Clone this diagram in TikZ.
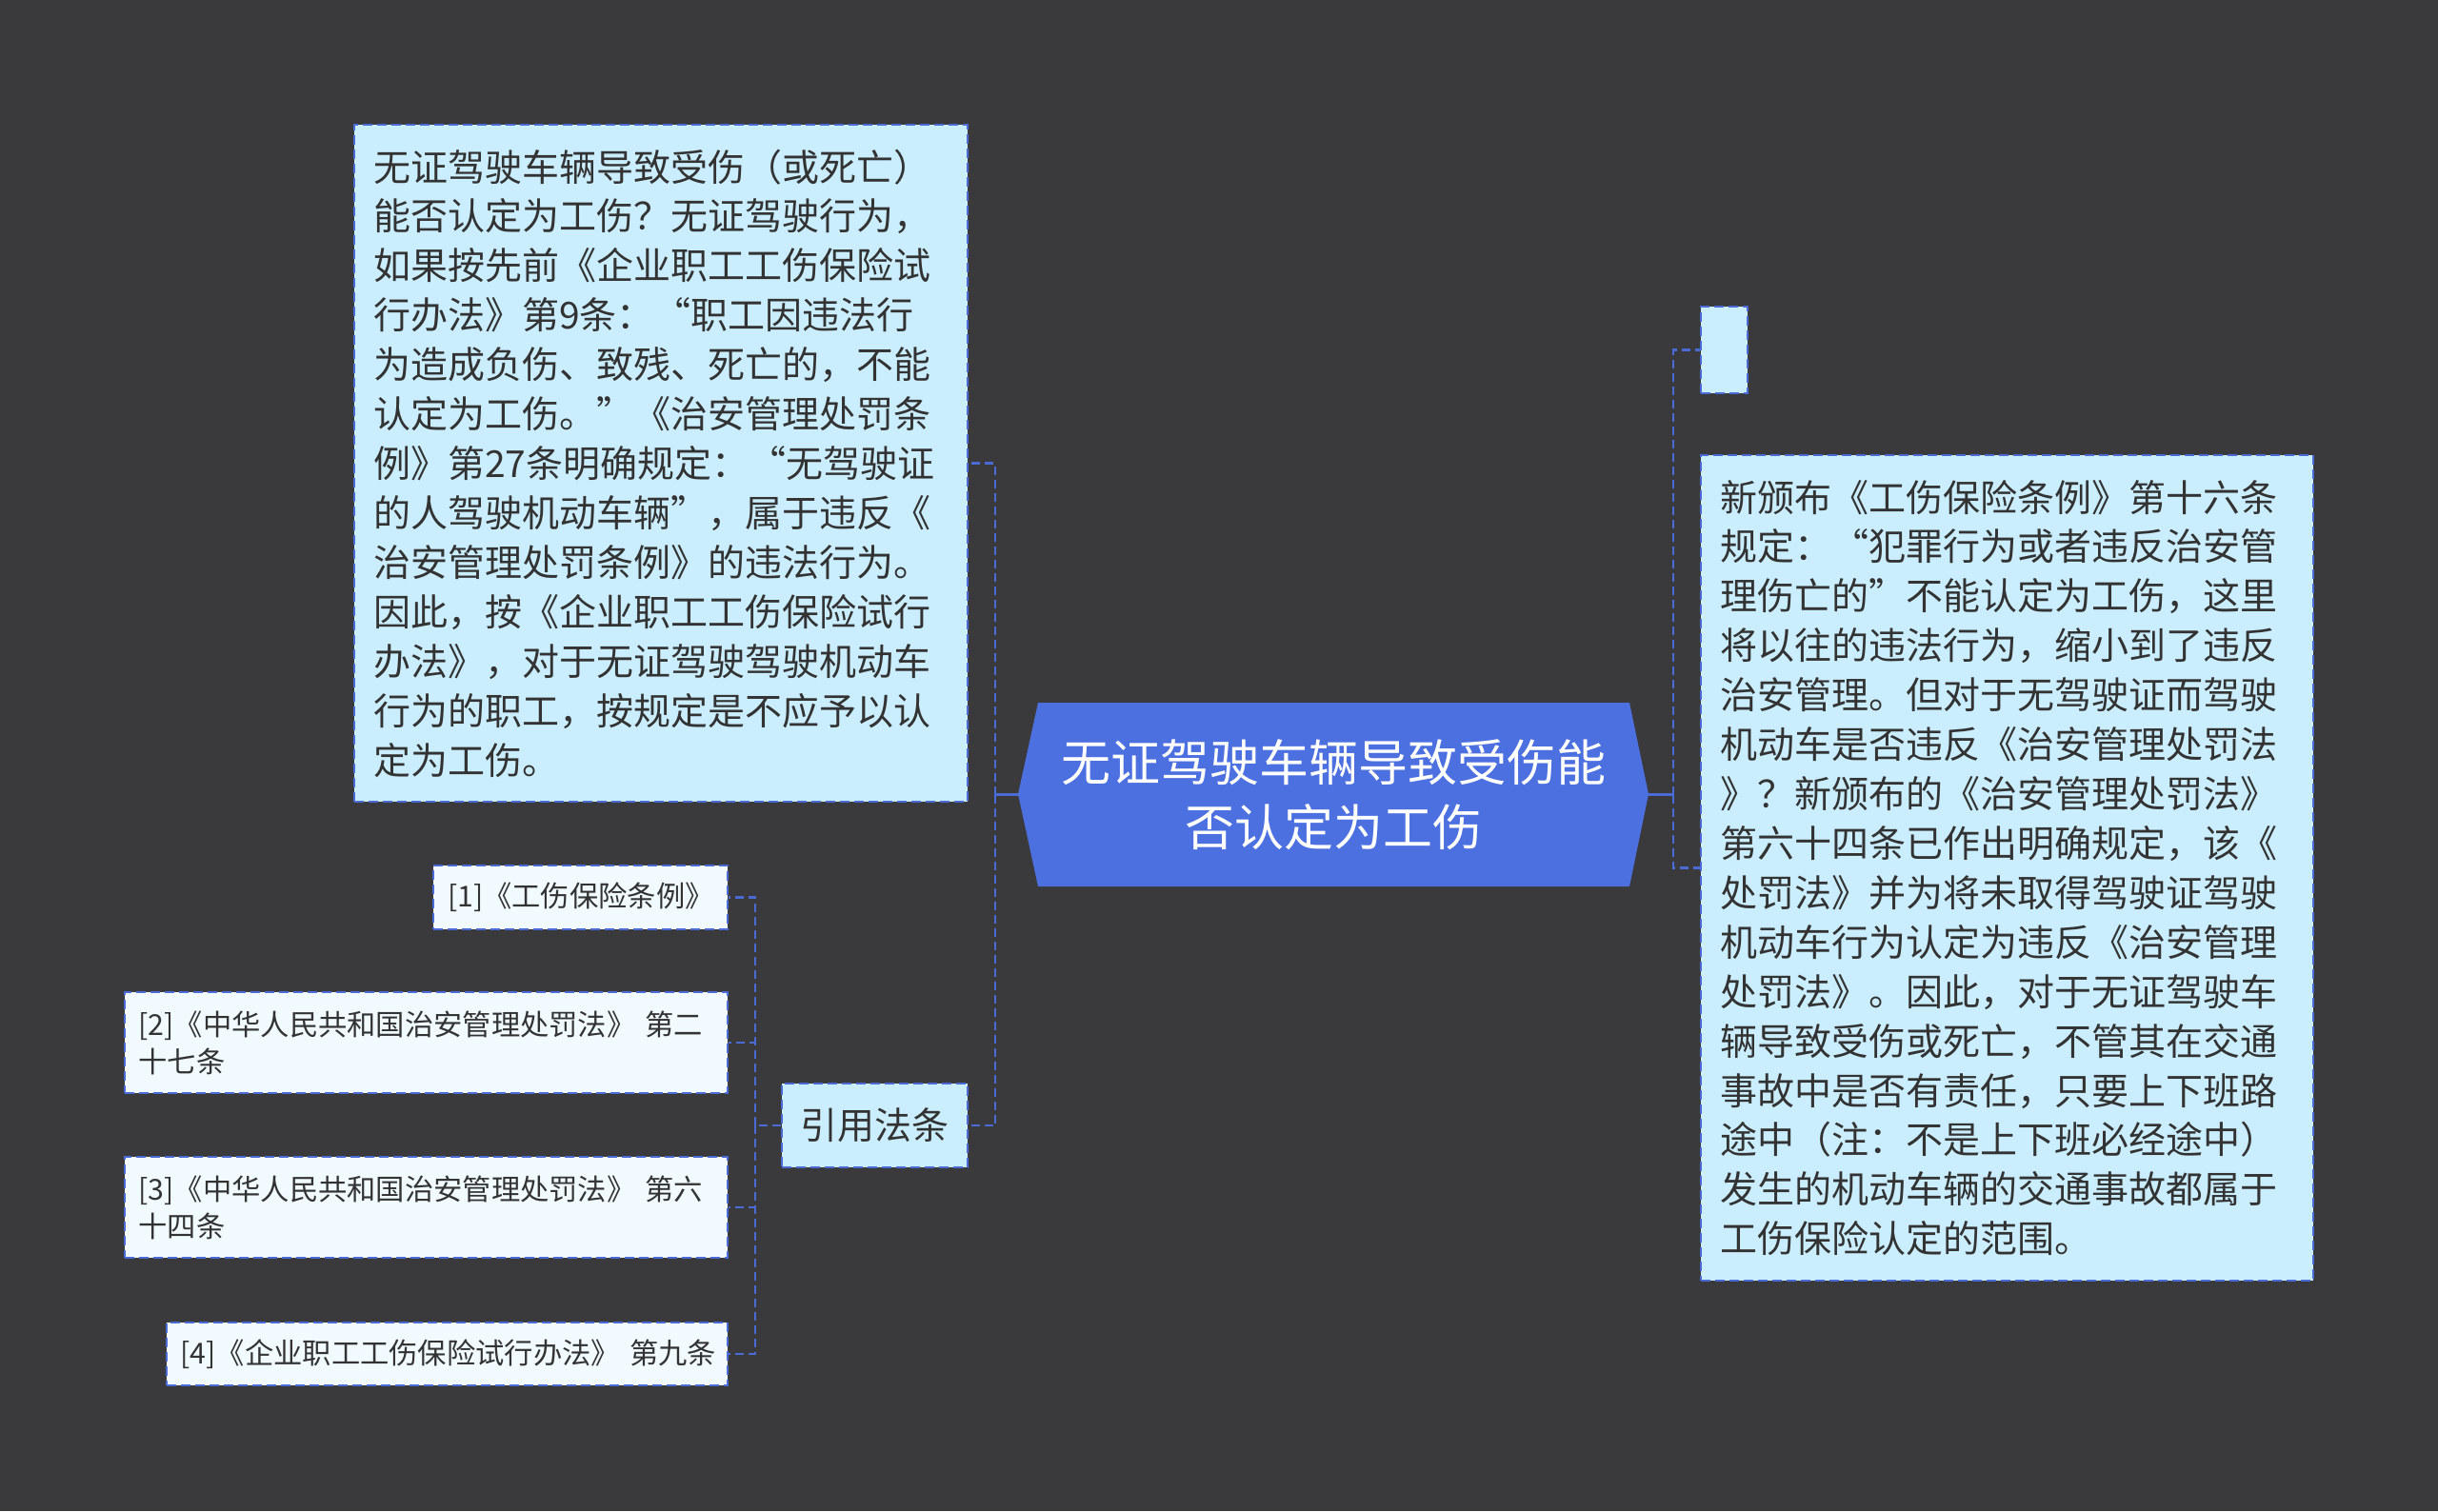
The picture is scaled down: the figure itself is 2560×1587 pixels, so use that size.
\documentclass[tikz,border=0pt]{standalone}
\usepackage{fontspec}
\setmainfont{Noto Sans CJK SC}
\definecolor{bgc}{HTML}{3A393C}
\definecolor{lineblue}{HTML}{4A6BD6}
\definecolor{boxfill}{HTML}{CAEEFE}
\definecolor{reffill}{HTML}{F0FAFF}
\definecolor{cfill}{HTML}{4C70E0}
\definecolor{txt}{HTML}{333333}
\newcommand\bodyfont{\fontsize{19.5pt}{25.96pt}\selectfont}
\newcommand\reffont{\fontsize{15.15pt}{19.5pt}\selectfont}
\newcommand\centerfont{\fontsize{26pt}{34pt}\selectfont}
\begin{document}
\begin{tikzpicture}[x=0.5pt,y=-0.5pt,
  box/.style={rectangle, draw=lineblue, dash pattern=on 5pt off 2.5pt, line width=1.1pt, fill=boxfill, inner sep=0pt, text=txt},
  refbox/.style={box, fill=reffill, font=\reffont, align=left},
  conn/.style={draw=lineblue, line width=1.2pt, dash pattern=on 4.5pt off 2.5pt},
  stub/.style={draw=lineblue, line width=1.4pt}]
\useasboundingbox (0,0) rectangle (2560,1587);
\fill[bgc] (0,0) rectangle (2560,1587);

% central node
\fill[cfill] (1090,738) -- (1711,738) -- (1731,834) -- (1711,931) -- (1090,931) -- (1069,834) -- cycle;
\node[minimum width=331pt, minimum height=96.5pt, inner sep=0pt, text=white, font=\centerfont, align=center] (c) at (1400,834.5) {无证驾驶车辆导致受伤能\\否认定为工伤};

% left text box
\node[box, minimum width=322pt, minimum height=355.5pt, text width=302pt, align=left, font=\bodyfont] (lq) at (694,486.5) {无证驾驶车辆导致受伤（或死亡）\\能否认定为工伤？无证驾驶行为，\\如果按先前《企业职工工伤保险试\\行办法》第9条：“职工因违法行\\为造成负伤、致残、死亡的，不能\\认定为工伤。”《治安管理处罚条\\例》第27条明确规定：“无驾驶证\\的人驾驶机动车辆”，属于违反《\\治安管理处罚条例》的违法行为。\\因此，按《企业职工工伤保险试行\\办法》，对于无证驾驶驾驶机动车\\行为的职工，按规定是不应予以认\\定为工伤。};

% cite node
\node[box, minimum width=97.5pt, minimum height=44pt, font=\bodyfont] (cite) at (918.5,1182) {引用法条};

% reference boxes
\node[refbox, minimum width=154.5pt, minimum height=33.5pt, text width=139.5pt] (r1) at (609.5,942.5) {[1]《工伤保险条例》};
\node[refbox, minimum width=316.5pt, minimum height=53pt, text width=302pt] (r2) at (447.5,1095) {[2]《中华人民共和国治安管理处罚法》~第二\\十七条};
\node[refbox, minimum width=316.5pt, minimum height=53pt, text width=302pt] (r3) at (447.5,1268) {[3]《中华人民共和国治安管理处罚法》~第六\\十四条};
\node[refbox, minimum width=294.5pt, minimum height=33pt, text width=280pt] (r4) at (469.5,1422) {[4]《企业职工工伤保险试行办法》~第九条};

% right boxes
\node[box, minimum width=24.5pt, minimum height=45.5pt] (sm) at (1810.5,367.5) {};
\node[box, minimum width=321.5pt, minimum height=433.5pt, text width=301.5pt, align=left, font=\bodyfont] (rq) at (2107.5,911.5) {新颁布《工伤保险条例》第十六条\\规定：“犯罪行为或者违反治安管\\理伤亡的”不能认定为工伤，这里\\将以往的违法行为，缩小到了违反\\治安管理。但对于无驾驶证而驾驶\\机动车是否违反《治安管理处罚法\\》？新颁布的《治安管理处罚法》\\第六十四条已作出明确规定，该《\\处罚法》并为将未取得驾驶证驾驶\\机动车行为认定为违反《治安管理\\处罚法》。因此，对于无证驾驶车\\辆导致受伤或死亡，不管其在交通\\事故中是否有责任，只要上下班路\\途中（注：不是上下班必经途中）\\发生的机动车辆的交通事故都属于\\工伤保险认定的范围。};

% trunk coordinates
\coordinate (tl) at (1045,834.5);
\coordinate (tr) at (1757,834.5);
\coordinate (tc) at (793,1182);

% connectors
\draw[stub] (c.west) -- (tl);
\draw[stub] (c.east) -- (tr);
\draw[conn] (tl) |- (lq.east);
\draw[conn] (tl) |- (cite.east);
\draw[conn] (tr) |- (sm.west);
\draw[conn] (tr) |- (rq.west);
\draw[conn] (cite.west) -- (tc);
\draw[conn] (tc) |- (r1.east);
\draw[conn] (tc) |- (r2.east);
\draw[conn] (tc) |- (r3.east);
\draw[conn] (tc) |- (r4.east);
\end{tikzpicture}
\end{document}
